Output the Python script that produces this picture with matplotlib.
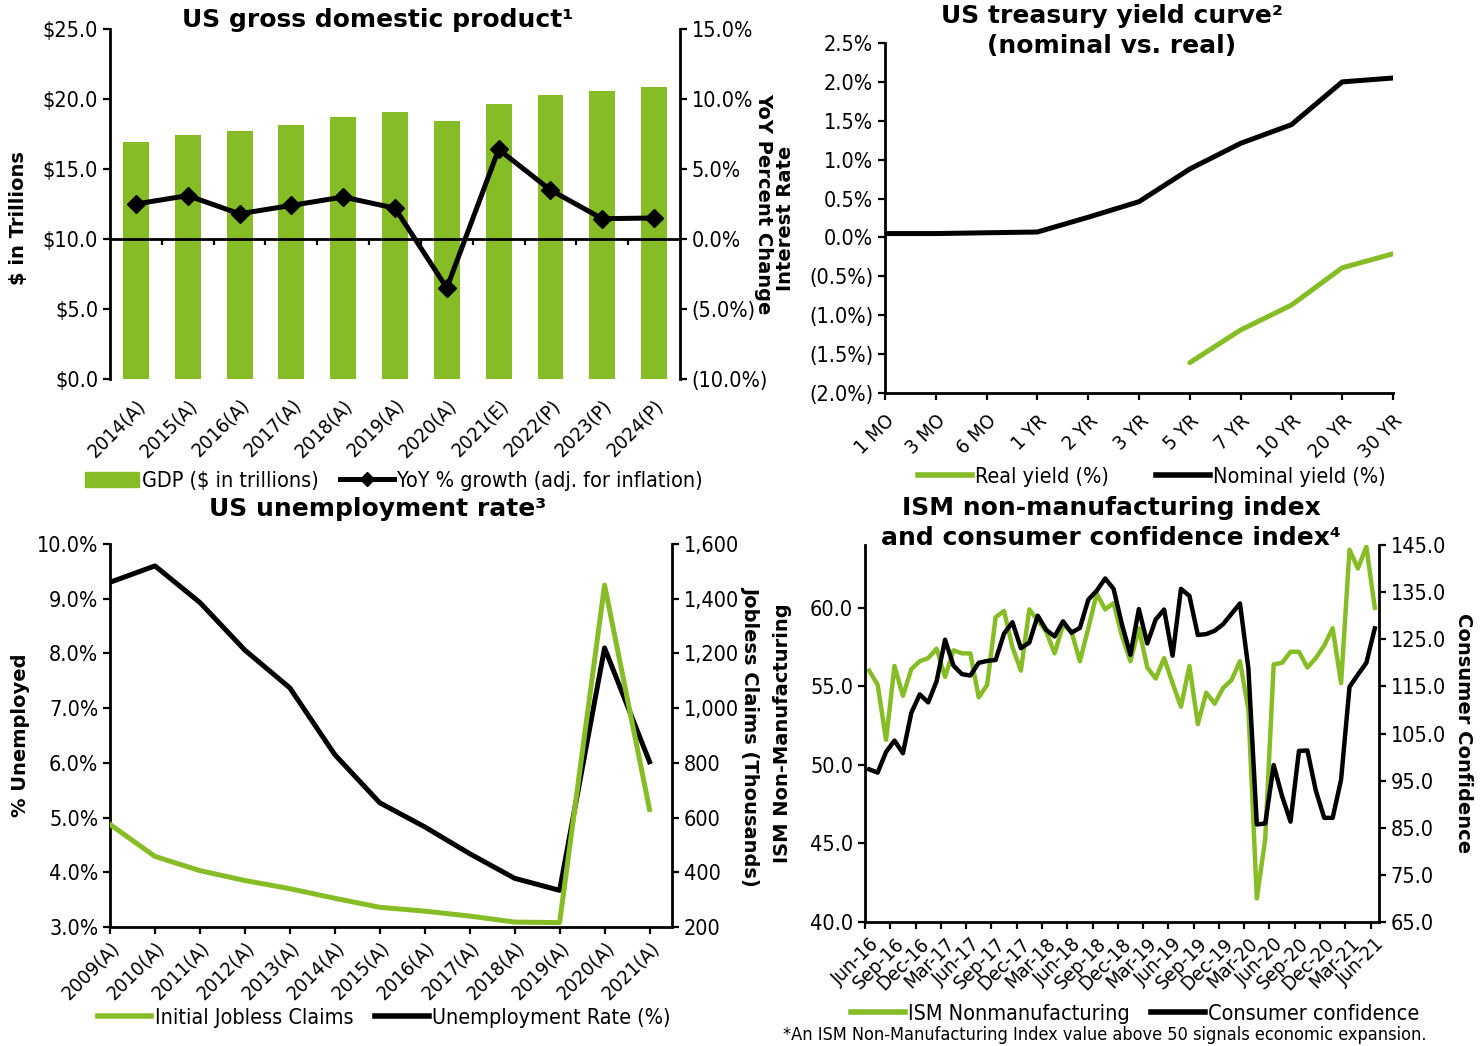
import numpy as np
import matplotlib
matplotlib.use("Agg")
import matplotlib.pyplot as plt
from matplotlib.lines import Line2D
from matplotlib.patches import Patch
from matplotlib.ticker import FuncFormatter, FixedLocator

# ---------------- data ----------------
gdp_years = ["2014(A)", "2015(A)", "2016(A)", "2017(A)", "2018(A)", "2019(A)",
             "2020(A)", "2021(E)", "2022(P)", "2023(P)", "2024(P)"]
gdp_trillions = [16.93, 17.43, 17.74, 18.14, 18.69, 19.09, 18.43, 19.62, 20.29, 20.59, 20.88]
gdp_yoy_pct = [2.5, 3.1, 1.8, 2.4, 3.0, 2.2, -3.5, 6.4, 3.5, 1.45, 1.5]

tenors = ["1 MO", "3 MO", "6 MO", "1 YR", "2 YR", "3 YR", "5 YR", "7 YR", "10 YR", "20 YR", "30 YR"]
nominal_yield = [0.05, 0.05, 0.06, 0.07, 0.26, 0.46, 0.88, 1.21, 1.45, 2.00, 2.05]
real_yield = [np.nan, np.nan, np.nan, np.nan, np.nan, np.nan, -1.61, -1.19, -0.87, -0.39, -0.21]

unemp_years = ["2009(A)", "2010(A)", "2011(A)", "2012(A)", "2013(A)", "2014(A)", "2015(A)",
               "2016(A)", "2017(A)", "2018(A)", "2019(A)", "2020(A)", "2021(A)"]
unemployment_rate = [9.3, 9.6, 8.93, 8.06, 7.37, 6.15, 5.27, 4.83, 4.34, 3.89, 3.67, 8.1, 6.02]
jobless_claims = [575, 458, 406, 370, 340, 305, 272, 258, 240, 218, 216, 1450, 630]

ism_months = ["Jun-16", "Jul-16", "Aug-16", "Sep-16", "Oct-16", "Nov-16", "Dec-16",
              "Jan-17", "Feb-17", "Mar-17", "Apr-17", "May-17", "Jun-17", "Jul-17",
              "Aug-17", "Sep-17", "Oct-17", "Nov-17", "Dec-17", "Jan-18", "Feb-18",
              "Mar-18", "Apr-18", "May-18", "Jun-18", "Jul-18", "Aug-18", "Sep-18",
              "Oct-18", "Nov-18", "Dec-18", "Jan-19", "Feb-19", "Mar-19", "Apr-19",
              "May-19", "Jun-19", "Jul-19", "Aug-19", "Sep-19", "Oct-19", "Nov-19",
              "Dec-19", "Jan-20", "Feb-20", "Mar-20", "Apr-20", "May-20", "Jun-20",
              "Jul-20", "Aug-20", "Sep-20", "Oct-20", "Nov-20", "Dec-20", "Jan-21",
              "Feb-21", "Mar-21", "Apr-21", "May-21", "Jun-21"]
ism_nonmfg = [56.0, 55.1, 51.6, 56.3, 54.4, 56.1, 56.6, 56.8, 57.4, 55.6, 57.3, 57.1,
              57.1, 54.3, 55.1, 59.4, 59.8, 57.5, 56.0, 59.9, 59.2, 58.5, 57.1, 58.9,
              58.5, 56.6, 58.7, 60.9, 59.9, 60.3, 58.2, 56.6, 58.7, 56.2, 55.5, 56.8,
              55.2, 53.7, 56.3, 52.6, 54.6, 53.9, 54.9, 55.4, 56.6, 53.5, 41.5, 45.3,
              56.4, 56.5, 57.2, 57.2, 56.2, 56.8, 57.6, 58.7, 55.2, 63.7, 62.5, 63.9, 60.0]
consumer_conf = [97.4, 96.7, 101.1, 103.5, 100.8, 109.4, 113.3, 111.6, 116.1, 124.9,
                 119.4, 117.6, 117.3, 120.0, 120.4, 120.6, 126.2, 128.6, 123.1, 124.3,
                 130.0, 127.0, 125.6, 128.8, 126.4, 127.4, 133.4, 135.3, 137.9, 135.7,
                 128.1, 121.7, 131.4, 124.1, 129.2, 131.3, 121.5, 135.7, 134.2, 125.9,
                 126.1, 126.8, 128.2, 130.4, 132.6, 118.8, 85.7, 85.9, 98.3, 91.7,
                 86.3, 101.3, 101.4, 92.9, 87.1, 87.1, 95.2, 114.9, 117.5, 120.0, 127.3]

# ---------------- style ----------------
GREEN = "#86BC25"
BLACK = "#000000"
TICK_FS = 15.5
XTICK_FS = 14.6
TITLE_FS = 18
LABEL_FS = 14

plt.rcParams["font.family"] = ["DejaVu Sans"]
plt.rcParams["font.stretch"] = "condensed"
plt.rcParams["axes.linewidth"] = 2
plt.rcParams["xtick.major.width"] = 1.6
plt.rcParams["ytick.major.width"] = 1.6
plt.rcParams["xtick.minor.width"] = 1.6
plt.rcParams["xtick.major.size"] = 5
plt.rcParams["ytick.major.size"] = 5
plt.rcParams["xtick.minor.size"] = 5

W, H = 1483, 1046
fig = plt.figure(figsize=(W / 100, H / 100), dpi=100)


def rect(left, top, right, bottom):
    return [left / W, 1 - bottom / H, (right - left) / W, (bottom - top) / H]


def paren_pct(v, _pos):
    return f"({abs(v):.1f}%)" if v < -1e-9 else f"{abs(v):.1f}%"


def title(x, y, text):
    fig.text(x / W, 1 - y / H, text, ha="center", va="center", fontsize=TITLE_FS,
             fontweight="bold", fontstretch="normal", linespacing=1.3)


def bold_label(axis, text, x, rotation, y=0.5):
    axis.set_label_text(text, fontsize=LABEL_FS, fontweight="bold", fontstretch="normal",
                        rotation=rotation, va="center", ha="center")
    axis.set_label_coords(x, y)


def style_ticks(ax):
    for lab in ax.get_yticklabels():
        lab.set_fontsize(TICK_FS)
    for lab in ax.get_xticklabels():
        lab.set_fontsize(XTICK_FS)


def legend(handles, labels, x, y, spacing=1.0):
    fig.legend(handles, labels, loc="center", bbox_to_anchor=(x / W, 1 - y / H), ncol=2,
               frameon=False, fontsize=TICK_FS, handlelength=2.5, handletextpad=0.15,
               columnspacing=spacing, borderaxespad=0)


# ---------------- US GDP ----------------
ax = fig.add_axes(rect(110, 29, 680, 379))
xg = np.arange(len(gdp_years))
ax.bar(xg, gdp_trillions, width=0.5, color=GREEN, zorder=1)
ax.set_xlim(-0.5, len(gdp_years) - 0.5)
ax.set_ylim(0, 25)
ax.set_yticks(np.arange(0, 25.1, 5))
ax.yaxis.set_major_formatter(FuncFormatter(lambda v, p: f"${v:.1f}"))
ax.set_xticks(xg)
ax.set_xticklabels(gdp_years, rotation=45, ha="right", rotation_mode="anchor")
ax.tick_params(axis="x", length=0, pad=12)
for s in ("top", "right", "bottom"):
    ax.spines[s].set_visible(False)
style_ticks(ax)
bold_label(ax.yaxis, "$ in Trillions", -0.16, 90, y=0.46)

ax2 = ax.twinx()
ax2.set_ylim(-10, 15)
ax2.set_yticks(np.arange(-10, 15.1, 5))
ax2.yaxis.set_major_formatter(FuncFormatter(paren_pct))
ax2.axhline(0, color=BLACK, lw=2, zorder=2)
ax2.vlines(np.arange(0.5, len(gdp_years) - 0.5), -0.4, 0, color=BLACK, lw=1.6)
ax2.plot(xg, gdp_yoy_pct, color=BLACK, lw=3.6, marker="D", ms=9, zorder=3)
for s in ("top", "left", "bottom"):
    ax2.spines[s].set_visible(False)
style_ticks(ax2)
bold_label(ax2.yaxis, "YoY Percent Change", 1.146, 270)
title(378, 20, "US gross domestic product\u00b9")
legend([Patch(color=GREEN), Line2D([], [], color=BLACK, lw=3.6, marker="D", ms=7)],
       ["GDP ($ in trillions)", "YoY % growth (adj. for inflation)"], 394, 481)

# ---------------- Treasury yield curve ----------------
ax = fig.add_axes(rect(885, 43, 1393, 393))
xt = np.arange(len(tenors))
ax.plot(xt, real_yield, color=GREEN, lw=3.6, solid_capstyle="round")
ax.plot(xt, nominal_yield, color=BLACK, lw=3.6)
ax.set_xlim(0, len(tenors) - 1)
ax.set_ylim(-2.0, 2.5)
ax.set_yticks(np.arange(-2.0, 2.51, 0.5))
ax.yaxis.set_major_formatter(FuncFormatter(paren_pct))
ax.set_xticks(xt)
ax.set_xticklabels(tenors, rotation=45, ha="right", rotation_mode="anchor")
ax.tick_params(axis="x", pad=8)
for s in ("top", "right"):
    ax.spines[s].set_visible(False)
style_ticks(ax)
bold_label(ax.yaxis, "Interest Rate", -0.195, 90)
title(1112, 31, "US treasury yield curve\u00b2\n(nominal vs. real)")
legend([Line2D([], [], color=GREEN, lw=4), Line2D([], [], color=BLACK, lw=4)],
       ["Real yield (%)", "Nominal yield (%)"], 1152, 477, spacing=2.2)

# ---------------- Unemployment ----------------
ax = fig.add_axes(rect(110, 544, 672, 927))
xu = np.arange(len(unemp_years))
ax.plot(xu, unemployment_rate, color=BLACK, lw=3.6)
ax.set_xlim(0, len(unemp_years) - 0.5)
ax.set_ylim(3, 10)
ax.set_yticks(np.arange(3, 10.1, 1))
ax.yaxis.set_major_formatter(FuncFormatter(lambda v, p: f"{v:.1f}%"))
ax.set_xticks(xu)
ax.set_xticklabels(unemp_years, rotation=45, ha="right", rotation_mode="anchor")
ax.tick_params(axis="x", pad=3)
for s in ("top", "right"):
    ax.spines[s].set_visible(False)
style_ticks(ax)
bold_label(ax.yaxis, "% Unemployed", -0.16, 90)

ax2 = ax.twinx()
ax2.plot(xu, jobless_claims, color=GREEN, lw=3.6)
ax2.set_ylim(200, 1600)
ax2.set_yticks(np.arange(200, 1601, 200))
ax2.yaxis.set_major_formatter(FuncFormatter(lambda v, p: f"{v:,.0f}"))
for s in ("top", "left", "bottom"):
    ax2.spines[s].set_visible(False)
style_ticks(ax2)
bold_label(ax2.yaxis, "Jobless Claims (Thousands)", 1.14, 270)
title(378, 509, "US unemployment rate\u00b3")
legend([Line2D([], [], color=GREEN, lw=4), Line2D([], [], color=BLACK, lw=4)],
       ["Initial Jobless Claims", "Unemployment Rate (%)"], 384, 1018)

# ---------------- ISM & consumer confidence ----------------
ax = fig.add_axes(rect(865, 545, 1379, 922))
xm = np.arange(len(ism_months))
ax.plot(xm, ism_nonmfg, color=GREEN, lw=3.2)
ax.set_xlim(-0.5, len(ism_months) - 0.5)
ax.set_ylim(40, 64)
ax.set_yticks(np.arange(40, 60.1, 5))
ax.yaxis.set_major_formatter(FuncFormatter(lambda v, p: f"{v:.1f}"))
ax.xaxis.set_major_locator(FixedLocator(xm[::3]))
ax.xaxis.set_minor_locator(FixedLocator(xm[::3] - 0.5))
ax.set_xticklabels(ism_months[::3], rotation=45, ha="right", rotation_mode="anchor")
ax.tick_params(axis="x", which="major", length=0, pad=9)
for s in ("top", "right"):
    ax.spines[s].set_visible(False)
style_ticks(ax)
bold_label(ax.yaxis, "ISM Non-Manufacturing", -0.16, 90)

ax2 = ax.twinx()
ax2.plot(xm, consumer_conf, color=BLACK, lw=3.2)
ax2.set_ylim(65, 145)
ax2.set_yticks(np.arange(65, 145.1, 10))
ax2.yaxis.set_major_formatter(FuncFormatter(lambda v, p: f"{v:.1f}"))
for s in ("top", "left", "bottom"):
    ax2.spines[s].set_visible(False)
style_ticks(ax2)
bold_label(ax2.yaxis, "Consumer Confidence", 1.165, 270)
title(1111, 523, "ISM non-manufacturing index\nand consumer confidence index\u2074")
legend([Line2D([], [], color=GREEN, lw=4), Line2D([], [], color=BLACK, lw=4)],
       ["ISM Nonmanufacturing", "Consumer confidence"], 1135, 1014)
fig.text(783 / W, 1 - 1035 / H,
         "*An ISM Non-Manufacturing Index value above 50 signals economic expansion.",
         ha="left", va="center", fontsize=13)

fig.savefig("out.png", dpi=100)
